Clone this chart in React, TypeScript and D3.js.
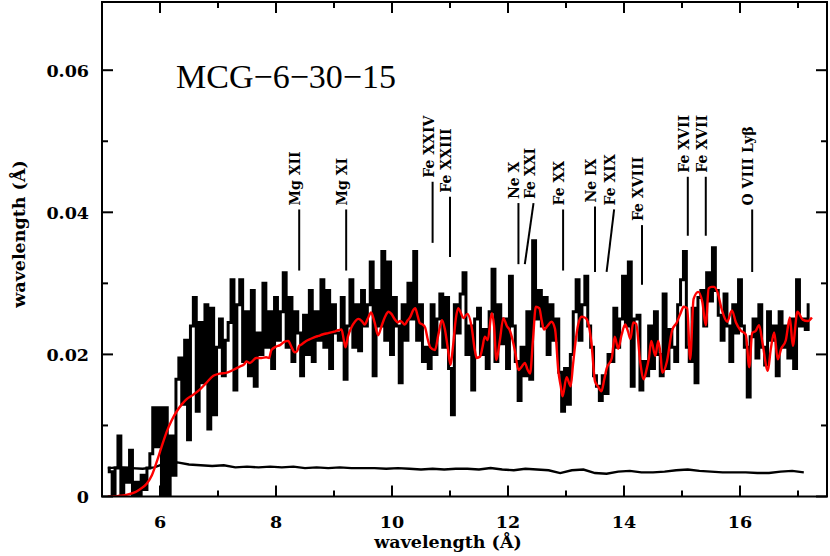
import React from "react";
import * as d3 from "d3";

// ---------- data ----------
const binStart = 5.1;
const binWidth = 0.05;
const counts = [
  0.004, 0.0035, 0.0, 0.004, 0.0085, 0.0, 0.004, 0.002, 0.0065, 0.0,
  0.002, 0.0, 0.003, 0.001, 0.004, 0.006, 0.0125, 0.007, 0.0125, 0.0,
  0.0125, 0.0, 0.0085, 0.003, 0.0165, 0.0195, 0.013, 0.022, 0.008, 0.024,
  0.028, 0.012, 0.0245, 0.016, 0.027, 0.0095, 0.0265, 0.0115, 0.021, 0.025,
  0.017, 0.022, 0.0245, 0.0305, 0.015, 0.027, 0.0305, 0.019, 0.026, 0.017,
  0.029, 0.0155, 0.023, 0.02, 0.03, 0.021, 0.026, 0.018, 0.028, 0.022,
  0.026, 0.0315, 0.021, 0.028, 0.019, 0.026, 0.023, 0.017, 0.0255, 0.02,
  0.029, 0.019, 0.026, 0.022, 0.0305, 0.021, 0.029, 0.018, 0.027, 0.023,
  0.022, 0.028, 0.0165, 0.024, 0.0305, 0.021, 0.027, 0.0205, 0.029, 0.024,
  0.027, 0.033, 0.017, 0.029, 0.024, 0.0345, 0.022, 0.033, 0.02, 0.028,
  0.024, 0.016, 0.027, 0.022, 0.03, 0.025, 0.0345, 0.022, 0.027, 0.019,
  0.021, 0.018, 0.027, 0.02, 0.025, 0.0285, 0.021, 0.028, 0.018, 0.0115,
  0.027, 0.023, 0.0285, 0.0315, 0.02, 0.024, 0.015, 0.025, 0.0265, 0.02,
  0.0235, 0.018, 0.026, 0.032, 0.019, 0.027, 0.0215, 0.025, 0.018, 0.031,
  0.024, 0.019, 0.0135, 0.021, 0.017, 0.026, 0.0165, 0.036, 0.025, 0.029,
  0.024, 0.028, 0.02, 0.027, 0.022, 0.025, 0.0175, 0.012, 0.018, 0.013,
  0.02, 0.026, 0.0305, 0.022, 0.027, 0.031, 0.024, 0.021, 0.017, 0.0155,
  0.0135, 0.017, 0.0145, 0.02, 0.019, 0.0265, 0.021, 0.025, 0.031, 0.024,
  0.033, 0.0155, 0.025, 0.0255, 0.015, 0.019, 0.017, 0.024, 0.018, 0.026,
  0.02, 0.017, 0.0285, 0.018, 0.0235, 0.021, 0.019, 0.027, 0.0305, 0.0345,
  0.021, 0.019, 0.0265, 0.016, 0.028, 0.029, 0.024, 0.0315, 0.0275, 0.035,
  0.029, 0.0255, 0.022, 0.0285, 0.024, 0.019, 0.027, 0.023, 0.0305, 0.024,
  0.021, 0.014, 0.0225, 0.025, 0.0195, 0.027, 0.021, 0.0185, 0.026, 0.022,
  0.024, 0.017, 0.026, 0.021, 0.024, 0.0195, 0.025, 0.018, 0.0305, 0.024,
  0.025, 0.0235, 0.027,
];

const modelWave = [
  5.1, 5.2, 5.3, 5.4, 5.54, 5.65, 5.77, 5.86, 5.94, 6.02, 6.11, 6.2, 6.29, 6.38, 6.46, 6.57, 6.68, 6.8, 6.92, 7.03,
  7.14, 7.26, 7.38, 7.45, 7.49, 7.55, 7.66, 7.75, 7.83, 7.88, 7.92, 8.0, 8.07, 8.15, 8.21, 8.27, 8.32, 8.36, 8.4, 8.44,
  8.52, 8.6, 8.69, 8.73, 8.8, 8.9, 9.0, 9.07, 9.13, 9.17, 9.2, 9.24, 9.3, 9.36, 9.42, 9.48, 9.53, 9.58, 9.64, 9.7,
  9.76, 9.82, 9.88, 9.94, 9.99, 10.05, 10.1, 10.14, 10.18, 10.22, 10.27, 10.31, 10.37, 10.4, 10.44, 10.48, 10.53, 10.57, 10.62, 10.66,
  10.74, 10.8, 10.86, 10.91, 10.96, 11.01, 11.05, 11.1, 11.14, 11.19, 11.23, 11.3, 11.37, 11.43, 11.46, 11.52, 11.56, 11.6, 11.65, 11.72,
  11.76, 11.8, 11.86, 11.92, 11.98, 12.03, 12.08, 12.12, 12.18, 12.24, 12.29, 12.34, 12.38, 12.43, 12.48, 12.54, 12.58, 12.62, 12.68, 12.75,
  12.81, 12.87, 12.91, 12.94, 13.01, 13.08, 13.12, 13.16, 13.21, 13.27, 13.32, 13.36, 13.4, 13.44, 13.5, 13.55, 13.61, 13.66, 13.7, 13.79,
  13.84, 13.9, 13.96, 14.02, 14.07, 14.11, 14.16, 14.21, 14.28, 14.34, 14.39, 14.43, 14.47, 14.54, 14.59, 14.63, 14.66, 14.74, 14.83, 14.91,
  14.97, 15.03, 15.09, 15.14, 15.2, 15.28, 15.35, 15.41, 15.46, 15.51, 15.55, 15.61, 15.69, 15.78, 15.86, 15.93, 16.01, 16.1, 16.16, 16.21,
  16.27, 16.33, 16.39, 16.48, 16.53, 16.59, 16.65, 16.71, 16.79, 16.86, 16.91, 16.99, 17.08, 17.17, 17.24,
];
const modelFlux = [
  0.0, 0.0, 0.0001, 0.0002, 0.0005, 0.001, 0.0018, 0.003, 0.0048, 0.0068, 0.009, 0.0107, 0.012, 0.013, 0.0137, 0.0143, 0.015, 0.016, 0.017, 0.0173,
  0.0174, 0.0178, 0.0183, 0.0186, 0.019, 0.0188, 0.0195, 0.0195, 0.0196, 0.0195, 0.0206, 0.0211, 0.0213, 0.0218, 0.0219, 0.021, 0.0203, 0.0204, 0.0212, 0.0214,
  0.0219, 0.0222, 0.0225, 0.0226, 0.0228, 0.023, 0.0232, 0.0234, 0.0235, 0.022, 0.021, 0.0225, 0.0238, 0.0246, 0.025, 0.0247, 0.0242, 0.025, 0.0259, 0.0245,
  0.0227, 0.024, 0.0253, 0.026, 0.0257, 0.0249, 0.0245, 0.0247, 0.0245, 0.0242, 0.0248, 0.0252, 0.0263, 0.0265, 0.0255, 0.0244, 0.0242, 0.0238, 0.022, 0.021,
  0.0206, 0.0228, 0.0248, 0.0236, 0.021, 0.0185, 0.021, 0.025, 0.0265, 0.0258, 0.0251, 0.0257, 0.024, 0.0205, 0.0195, 0.0197, 0.021, 0.0225, 0.022, 0.0258,
  0.024, 0.0192, 0.022, 0.0251, 0.024, 0.0234, 0.022, 0.0205, 0.0178, 0.0183, 0.0188, 0.0178, 0.0173, 0.022, 0.0267, 0.0265, 0.0248, 0.0235, 0.024, 0.0246,
  0.0236, 0.0175, 0.0155, 0.0141, 0.0168, 0.0155, 0.0185, 0.0215, 0.0242, 0.0253, 0.0252, 0.0249, 0.0238, 0.0215, 0.0162, 0.0155, 0.0148, 0.0165, 0.018, 0.0195,
  0.0225, 0.0208, 0.0228, 0.0242, 0.0232, 0.0222, 0.0245, 0.0243, 0.0189, 0.0165, 0.0179, 0.0195, 0.0219, 0.0198, 0.0219, 0.02, 0.0174, 0.019, 0.0234, 0.0245,
  0.0257, 0.0267, 0.0265, 0.0193, 0.0278, 0.0288, 0.0274, 0.0241, 0.0293, 0.0295, 0.0295, 0.0288, 0.0262, 0.0246, 0.0262, 0.0245, 0.0234, 0.0228, 0.0182, 0.023,
  0.0233, 0.0241, 0.0215, 0.0177, 0.0207, 0.0231, 0.0193, 0.0208, 0.022, 0.0252, 0.0212, 0.026, 0.0249, 0.0247, 0.0252,
];

const bgStart = 5.1;
const bgStep = 0.2;
const background = [
  0.004, 0.0041, 0.004, 0.0039, 0.0041, 0.0047, 0.0048, 0.0045, 0.0044, 0.0043,
  0.0044, 0.0041, 0.0042, 0.0041, 0.0042, 0.0041, 0.0042, 0.004, 0.0041, 0.004,
  0.0041, 0.004, 0.004, 0.004, 0.0039, 0.004, 0.0039, 0.0038, 0.0039, 0.0038,
  0.0039, 0.0039, 0.0038, 0.004, 0.0038, 0.0037, 0.0039, 0.0038, 0.0037, 0.0033,
  0.0037, 0.0038, 0.0033, 0.0032, 0.0035, 0.0036, 0.0034, 0.0034, 0.0035, 0.0037,
  0.0038, 0.0036, 0.0035, 0.0034, 0.0034, 0.0034, 0.0033, 0.0033, 0.0035, 0.0036,
  0.0034,
];

// line identifications
const lineNames = ["Mg XII", "Mg XI", "Fe XXIV", "Fe XXIII", "Ne X", "Fe XXI", "Fe XX", "Ne IX", "Fe XIX", "Fe XVIII", "Fe XVII", "Fe XVII", "O VIII Lyβ"];
const lineWaveTop = [8.4, 9.21, 10.7, 11.0, 12.18, 12.44, 12.95, 13.5, 13.83, 14.31, 15.1, 15.41, 16.21];
const lineWaveBottom = [8.4, 9.21, 10.7, 11.0, 12.18, 12.29, 12.95, 13.5, 13.7, 14.31, 15.1, 15.41, 16.21];
const lineTop = [0.0404, 0.0404, 0.0443, 0.0422, 0.0413, 0.0413, 0.0404, 0.0408, 0.0404, 0.0382, 0.045, 0.045, 0.0404];
const lineBottom = [0.0318, 0.0318, 0.0357, 0.0337, 0.0327, 0.0327, 0.0318, 0.0316, 0.0316, 0.0298, 0.0367, 0.0367, 0.0316];

const xMajor = [6, 8, 10, 12, 14, 16];
const xMinor = [5, 7, 9, 11, 13, 15, 17];
const yMajor = [0, 0.02, 0.04, 0.06];
const yMajorLabels = ["0", "0.02", "0.04", "0.06"];
const yMinor = [0.01, 0.03, 0.05];

const W = 830;
const H = 556;
const L = 102, R = 827, T = 2, B = 496.5;

export default function App() {
  const x = d3.scaleLinear().domain([5, 17.5]).range([L, R]);
  const y = d3.scaleLinear().domain([0, 0.0696]).range([B, T]);

  const stepLine = d3
    .line<number>()
    .x((_, i) => x(binStart + i * binWidth))
    .y((d) => y(d))
    .curve(d3.curveStep);
  const dataPath = stepLine(counts) || "";

  const modelLine = d3
    .line<number>()
    .x((_, i) => x(modelWave[i]))
    .y((d) => y(d))
    .curve(d3.curveMonotoneX);
  const modelPath = modelLine(modelFlux) || "";

  const bgLine = d3
    .line<number>()
    .x((_, i) => x(bgStart + i * bgStep))
    .y((d) => y(d));
  const bgPath = bgLine(background) || "";

  const tickFont = "'DejaVu Serif', serif";
  const majorLen = 11;
  const minorLen = 6;

  return (
    <svg width={W} height={H} style={{ position: "absolute", left: 0, top: 0, background: "#fff" }}>
      <defs>
        <clipPath id="plot">
          <rect x={L} y={T} width={R - L} height={B - T} />
        </clipPath>
      </defs>
      {/* data */}
      <g clipPath="url(#plot)">
        <path d={bgPath} fill="none" stroke="#000" strokeWidth={2.4} />
        <path d={dataPath} fill="none" stroke="#000" strokeWidth={3} strokeLinejoin="miter" />
        <path d={modelPath} fill="none" stroke="#ff0000" strokeWidth={2.4} />
      </g>

      {/* line identifications */}
      {lineNames.map((n, i) => {
        const xt = x(lineWaveTop[i]);
        const xb = x(lineWaveBottom[i]);
        const yt = y(lineTop[i]);
        const yb = y(lineBottom[i]);
        return (
          <g key={i}>
            <line x1={xt} y1={yt} x2={xb} y2={yb} stroke="#000" strokeWidth={2} />
            <text
              transform={`translate(${xt + 1},${yt - 4}) rotate(-90)`}
              fontFamily={tickFont}
              fontWeight="bold"
              fontSize={14}
              textAnchor="start"
            >
              {n}
            </text>
          </g>
        );
      })}

      {/* frame */}
      <rect x={L} y={T} width={R - L} height={B - T} fill="none" stroke="#000" strokeWidth={2} />

      {/* x ticks */}
      {xMajor.map((v) => (
        <g key={"xm" + v}>
          <line x1={x(v)} x2={x(v)} y1={B} y2={B - majorLen} stroke="#000" strokeWidth={2} />
          <line x1={x(v)} x2={x(v)} y1={T} y2={T + majorLen} stroke="#000" strokeWidth={2} />
          <text x={x(v)} y={528} textAnchor="middle" fontFamily={tickFont} fontWeight="bold" fontSize={17.5}>
            {v}
          </text>
        </g>
      ))}
      {xMinor.map((v) => (
        <g key={"xn" + v}>
          <line x1={x(v)} x2={x(v)} y1={B} y2={B - minorLen} stroke="#000" strokeWidth={2} />
          <line x1={x(v)} x2={x(v)} y1={T} y2={T + minorLen} stroke="#000" strokeWidth={2} />
        </g>
      ))}

      {/* y ticks */}
      {yMajor.map((v, i) => (
        <g key={"ym" + v}>
          <line x1={L} x2={L + majorLen} y1={y(v)} y2={y(v)} stroke="#000" strokeWidth={2} />
          <line x1={R} x2={R - majorLen} y1={y(v)} y2={y(v)} stroke="#000" strokeWidth={2} />
          <text x={89} y={y(v) + 6.5} textAnchor="end" fontFamily={tickFont} fontWeight="bold" fontSize={17.5}>
            {yMajorLabels[i]}
          </text>
        </g>
      ))}
      {yMinor.map((v) => (
        <g key={"yn" + v}>
          <line x1={L} x2={L + minorLen} y1={y(v)} y2={y(v)} stroke="#000" strokeWidth={2} />
          <line x1={R} x2={R - minorLen} y1={y(v)} y2={y(v)} stroke="#000" strokeWidth={2} />
        </g>
      ))}

      {/* axis titles */}
      <text x={448} y={548} textAnchor="middle" fontFamily={tickFont} fontWeight="bold" fontSize={17.5}>
        wavelength (Å)
      </text>
      <text
        transform={`translate(25,234) rotate(-90)`}
        textAnchor="middle"
        fontFamily={tickFont}
        fontWeight="bold"
        fontSize={17.5}
      >
        wavelength (Å)
      </text>

      {/* title */}
      <text x={176} y={88} fontFamily="'Liberation Serif', serif" fontSize={34}>
        MCG−6−30−15
      </text>
    </svg>
  );
}
